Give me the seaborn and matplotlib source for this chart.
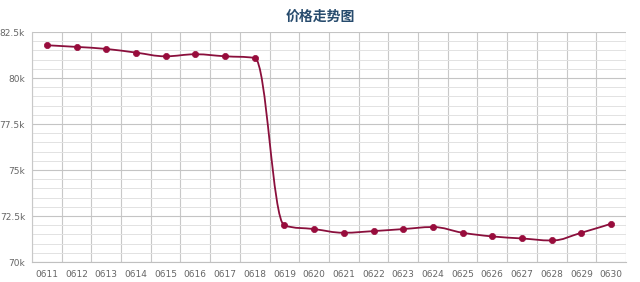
import numpy as np
import pandas as pd
import matplotlib
matplotlib.use("Agg")
import matplotlib.pyplot as plt
from matplotlib.path import Path
from matplotlib.patches import PathPatch
from matplotlib.ticker import FixedLocator, FuncFormatter
import seaborn as sns

# Daily prices
dates = ["0611", "0612", "0613", "0614", "0615", "0616", "0617", "0618", "0619", "0620",
         "0621", "0622", "0623", "0624", "0625", "0626", "0627", "0628", "0629", "0630"]
prices = [81780, 81690, 81580, 81380, 81180, 81290, 81180, 81090, 71990, 71790,
          71590, 71680, 71790, 71900, 71590, 71390, 71280, 71170, 71590, 72080]
title = "价格走势图"

LINE = "#8a0f3c"
MARK = "#980c3c"

sns.set_theme(style="white")
plt.rcParams["font.family"] = ["Noto Sans CJK SC", "DejaVu Sans"]

df = pd.DataFrame({"idx": np.arange(len(dates)), "price": prices})

fig = plt.figure(figsize=(6.4, 2.82), dpi=100)
ax = fig.add_axes([0.05, 0.0709, 0.928, 0.8156])


def spline_path(xs, ys, smoothing=1.5):
    """Smooth cubic bezier through the points, with overshoot clamping."""
    n = len(xs)
    left = [None] * n
    right = [None] * n
    for i in range(n):
        x, y = xs[i], ys[i]
        if 0 < i < n - 1:
            lx, ly = xs[i - 1], ys[i - 1]
            nx, ny = xs[i + 1], ys[i + 1]
            lcx = (smoothing * x + lx) / (smoothing + 1)
            lcy = (smoothing * y + ly) / (smoothing + 1)
            rcx = (smoothing * x + nx) / (smoothing + 1)
            rcy = (smoothing * y + ny) / (smoothing + 1)
            corr = (rcy - lcy) * (rcx - x) / (rcx - lcx) + y - rcy
            lcy += corr
            rcy += corr
            if lcy > ly and lcy > y:
                lcy = max(ly, y)
                rcy = 2 * y - lcy
            elif lcy < ly and lcy < y:
                lcy = min(ly, y)
                rcy = 2 * y - lcy
            if rcy > ny and rcy > y:
                rcy = max(ny, y)
                lcy = 2 * y - rcy
            elif rcy < ny and rcy < y:
                rcy = min(ny, y)
                lcy = 2 * y - rcy
            left[i] = (lcx, lcy)
            right[i] = (rcx, rcy)
        else:
            left[i] = (x, y)
            right[i] = (x, y)
    verts = [(xs[0], ys[0])]
    codes = [Path.MOVETO]
    for i in range(1, n):
        verts += [right[i - 1], left[i], (xs[i], ys[i])]
        codes += [Path.CURVE4] * 3
    return Path(verts, codes)


path = spline_path(df["idx"].tolist(), df["price"].tolist())
ax.add_patch(PathPatch(path, facecolor="none", edgecolor=LINE, lw=1.3, zorder=3))

sns.scatterplot(data=df, x="idx", y="price", ax=ax, color=MARK, s=20,
                edgecolor=MARK, linewidth=0.5, zorder=4, legend=False)

ax.set_xlim(-0.5, len(dates) - 0.5)
ax.set_ylim(70000, 82500)

# x axis: labels at category centres, gridlines/ticks at category boundaries
ax.set_xticks(np.arange(len(dates)))
ax.set_xticklabels(dates)
ax.xaxis.set_minor_locator(FixedLocator(np.arange(-0.5, len(dates), 1.0)))
ax.tick_params(axis="x", which="major", length=0, labelsize=6.5, colors="#666666", pad=6)
ax.tick_params(axis="x", which="minor", length=5, width=0.8, color="#c0c0c0", direction="out")
ax.grid(axis="x", which="minor", color="#c8c8c8", lw=0.8)

# y axis
ax.set_yticks(np.arange(70000, 82501, 2500))
ax.yaxis.set_major_formatter(FuncFormatter(lambda v, p: f"{v/1000:g}k"))
ax.yaxis.set_minor_locator(FixedLocator(np.arange(70000, 82501, 500)))
ax.tick_params(axis="y", which="major", length=0, labelsize=6.5, colors="#666666", pad=5)
ax.tick_params(axis="y", which="minor", length=0)
ax.grid(axis="y", which="major", color="#c4c4c4", lw=0.8)
ax.grid(axis="y", which="minor", color="#e2e2e2", lw=0.7)

for lab in ax.get_xticklabels() + ax.get_yticklabels():
    lab.set_fontfamily(["DejaVu Sans"])

ax.set_xlabel("")
ax.set_ylabel("")
for side in ["top", "right"]:
    ax.spines[side].set_visible(False)
ax.spines["left"].set_color("#c8c8c8")
ax.spines["left"].set_linewidth(0.8)
ax.spines["bottom"].set_color("#c0c0c0")
ax.spines["bottom"].set_linewidth(0.8)
ax.set_axisbelow(True)

fig.text(0.5, 0.94, title, ha="center", va="center", fontsize=10,
         fontweight="bold", color="#274b6d")

fig.savefig("out.png", dpi=100, facecolor="white")
